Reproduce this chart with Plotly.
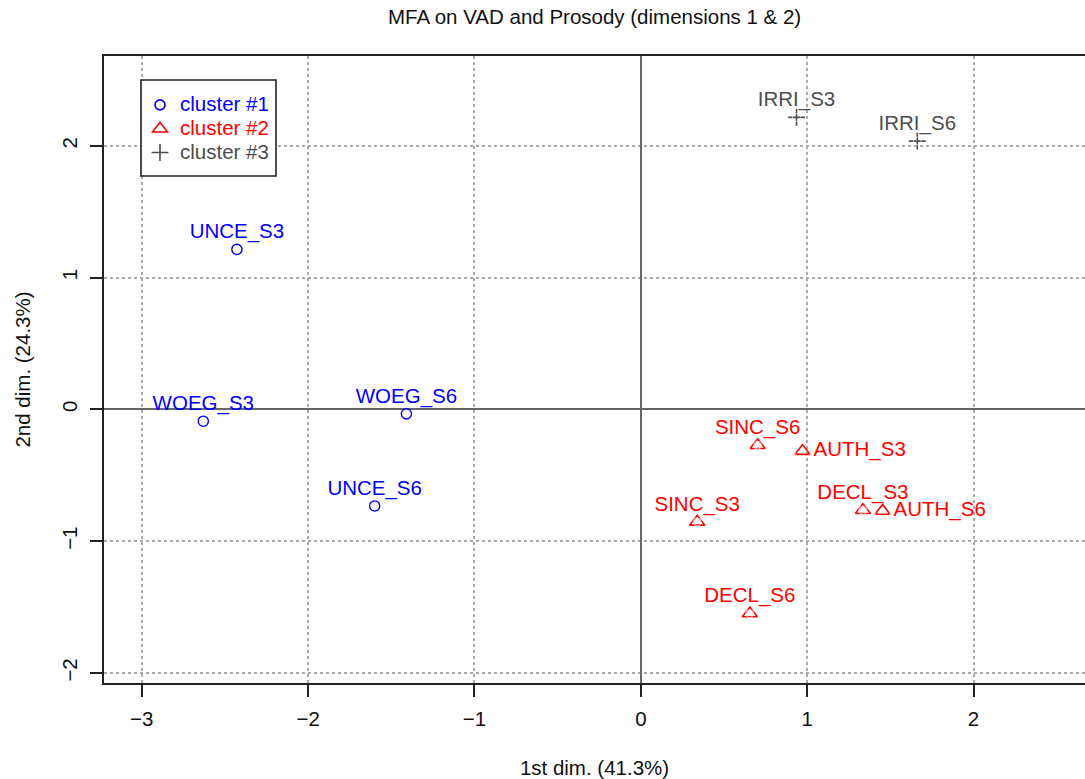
import plotly.graph_objects as go

# ---- data ----
cluster1_names = ["UNCE_S3", "WOEG_S3", "WOEG_S6", "UNCE_S6"]
cluster1_x = [-2.428, -2.630, -1.409, -1.600]
cluster1_y = [1.215, -0.089, -0.033, -0.732]

cluster2_names = ["SINC_S6", "AUTH_S3", "SINC_S3", "DECL_S3", "AUTH_S6", "DECL_S6"]
cluster2_x = [0.702, 0.972, 0.339, 1.335, 1.453, 0.655]
cluster2_y = [-0.271, -0.316, -0.853, -0.765, -0.770, -1.549]

cluster3_names = ["IRRI_S3", "IRRI_S6"]
cluster3_x = [0.936, 1.662]
cluster3_y = [2.217, 2.037]

legend_labels = ["cluster #1", "cluster #2", "cluster #3"]
x_ticks = [-3, -2, -1, 0, 1, 2]
y_ticks = [-2, -1, 0, 1, 2]

title_text = "MFA on VAD and Prosody (dimensions 1 & 2)"
x_title = "1st dim. (41.3%)"
y_title = "2nd dim. (24.3%)"

# ---- style ----
FONT = "Liberation Sans, Arial, Helvetica, sans-serif"
FS = 20.5
colors = ["#0000ff", "#ff0000", "#4d4d4d"]
symbols = ["circle-open", "triangle-up-open", "cross-thin-open"]
sizes = [10, 13, 12]
right_labels = {"AUTH_S3", "AUTH_S6"}

# plot area in pixels (for converting legend box placement to paper coords)
L, T, R_, B = 104, 56, 1085, 683
def px_x(p): return (p - L) / (R_ - L)
def px_y(p): return (B - p) / (B - T)

fig = go.Figure()

groups = [
    (cluster1_names, cluster1_x, cluster1_y),
    (cluster2_names, cluster2_x, cluster2_y),
    (cluster3_names, cluster3_x, cluster3_y),
]

for i, (names, xs, ys) in enumerate(groups):
    fig.add_trace(go.Scatter(
        x=xs, y=ys, mode="markers",
        name="<span style='color:%s;font-size:%spx'>%s</span>" % (colors[i], FS, legend_labels[i]),
        marker=dict(symbol=symbols[i], size=sizes[i], color=colors[i],
                    line=dict(color=colors[i], width=1.6)),
        cliponaxis=False,
    ))
for i, (names, xs, ys) in enumerate(groups):
    pos = ["middle right" if n in right_labels else "top center" for n in names]
    offs = [16 if n in right_labels else 8 for n in names]
    fig.add_trace(go.Scatter(
        x=xs, y=ys, mode="markers+text", text=names, textposition=pos,
        marker=dict(size=offs, color="rgba(0,0,0,0)"),
        textfont=dict(family=FONT, size=FS, color=colors[i]),
        showlegend=False, hoverinfo="skip", cliponaxis=False,
    ))

axis_common = dict(
    showgrid=True, gridcolor="#aaaaaa", griddash="dot", gridwidth=1.5,
    zeroline=True, zerolinecolor="#666666", zerolinewidth=1.5,
    showline=True, linecolor="#222222", linewidth=1.6,
    ticks="outside", ticklen=12, tickwidth=1.6, tickcolor="#222222",
    tickfont=dict(family=FONT, size=FS, color="#111111"),
)

fig.update_layout(
    width=1085, height=779,
    margin=dict(l=L, r=0, t=T, b=779 - B),
    paper_bgcolor="white", plot_bgcolor="white",
    font=dict(family=FONT, size=FS, color="#111111"),
    title=dict(text=title_text, x=0.548, xanchor="center", y=0.978, yanchor="middle",
               font=dict(family=FONT, size=FS, color="#111111")),
    xaxis=dict(range=[-3.227, 2.670], tickvals=x_ticks,
               ticktext=["\u22123", "\u22122", "\u22121", "0", "1", "2"],
               mirror=True, ticklabelstandoff=5,
               title=dict(text=x_title, standoff=32, font=dict(family=FONT, size=FS)),
               **axis_common),
    yaxis=dict(range=[-2.076, 2.683], tickvals=y_ticks,
               ticktext=["\u22122", "\u22121", "0", "1", "2"],
               tickangle=-90, mirror=False, ticklabelstandoff=5,
               title=dict(text=y_title, standoff=22, font=dict(family=FONT, size=FS)),
               **axis_common),
    legend=dict(x=px_x(140), y=px_y(88), xanchor="left", yanchor="top",
                borderwidth=0, bgcolor="rgba(0,0,0,0)",
                font=dict(family=FONT, size=16), itemwidth=30,
                tracegroupgap=0),
    showlegend=True,
    shapes=[dict(type="rect", xref="paper", yref="paper",
                 x0=px_x(141), x1=px_x(276), y0=px_y(176), y1=px_y(80),
                 line=dict(color="#222222", width=1.6), fillcolor="white",
                 layer="above")],
)

fig.write_html("out.html")
